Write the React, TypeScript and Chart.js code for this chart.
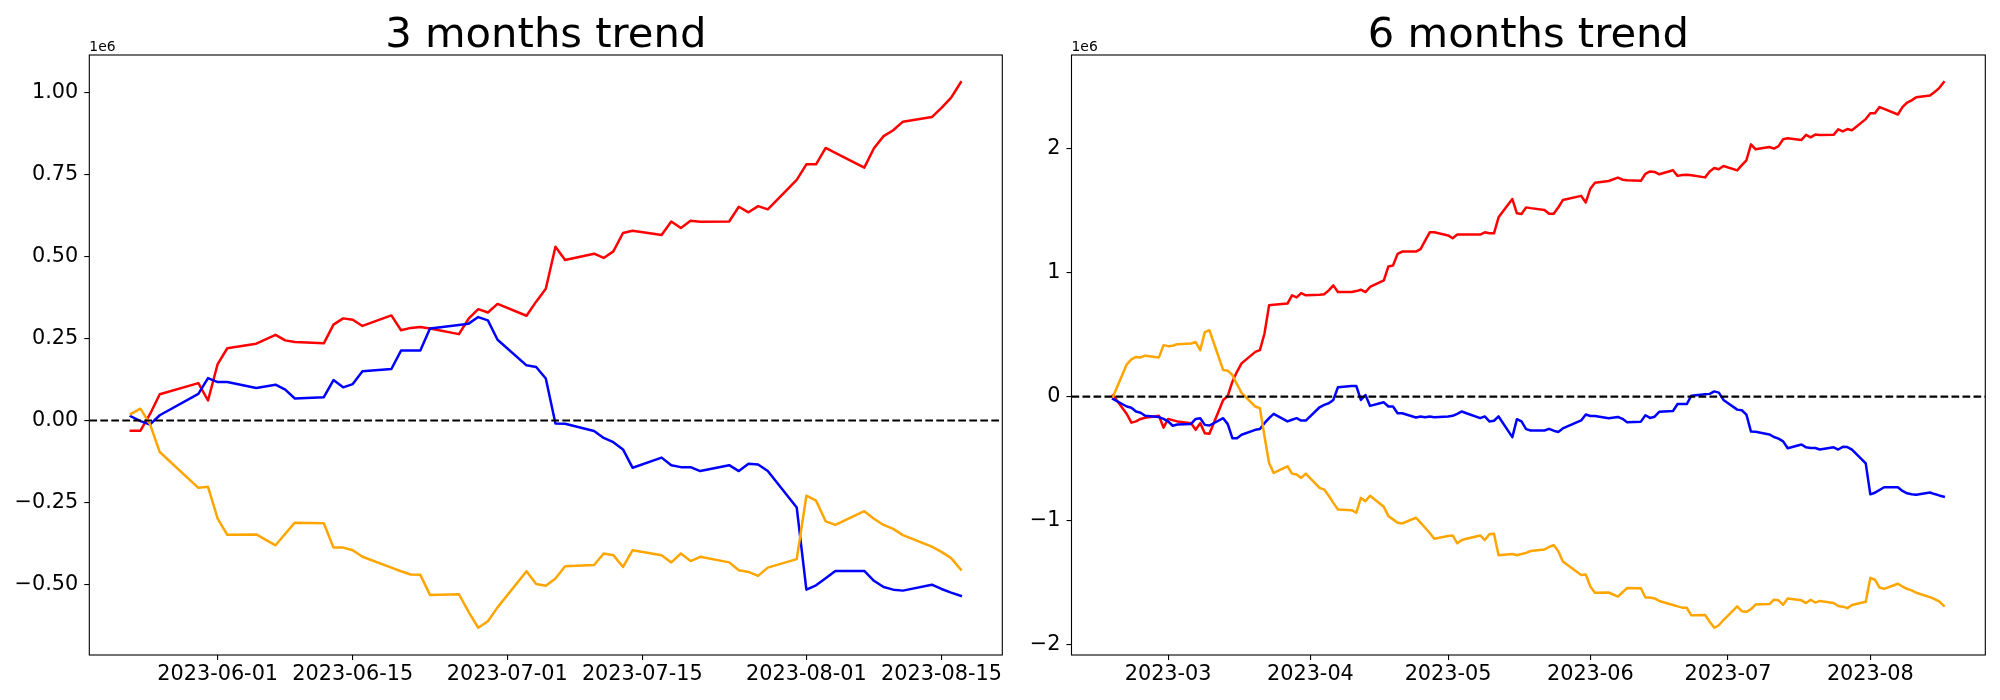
import React, { useEffect, useRef } from "react";
import { Chart, registerables } from "chart.js";

Chart.register(...registerables);

const FONT = "'DejaVu Sans', 'Liberation Sans', sans-serif";

// ---------------- 3 months trend (values in units of 1e6) ----------------
const DATES_3M = [
  "2023-05-23", "2023-05-24", "2023-05-25", "2023-05-26", "2023-05-30", "2023-05-31",
  "2023-06-01", "2023-06-02", "2023-06-05", "2023-06-07", "2023-06-08", "2023-06-09",
  "2023-06-12", "2023-06-13", "2023-06-14", "2023-06-15", "2023-06-16",
  "2023-06-19", "2023-06-20", "2023-06-21", "2023-06-22", "2023-06-23",
  "2023-06-26", "2023-06-27", "2023-06-28", "2023-06-29", "2023-06-30",
  "2023-07-03", "2023-07-04", "2023-07-05", "2023-07-06", "2023-07-07",
  "2023-07-10", "2023-07-11", "2023-07-12", "2023-07-13", "2023-07-14",
  "2023-07-17", "2023-07-18", "2023-07-19", "2023-07-20", "2023-07-21",
  "2023-07-24", "2023-07-25", "2023-07-26", "2023-07-27", "2023-07-28",
  "2023-07-31", "2023-08-01", "2023-08-02", "2023-08-03", "2023-08-04",
  "2023-08-07", "2023-08-08", "2023-08-09", "2023-08-10", "2023-08-11",
  "2023-08-14", "2023-08-15", "2023-08-16", "2023-08-17",
];
const RED_3M = [
  -0.031, -0.031, 0.020, 0.080, 0.114, 0.061,
  0.172, 0.220, 0.234, 0.261, 0.244, 0.239,
  0.235, 0.292, 0.311, 0.307, 0.288,
  0.320, 0.275, 0.282, 0.285, 0.280,
  0.263, 0.310, 0.339, 0.329, 0.355,
  0.319, 0.362, 0.401, 0.529, 0.489,
  0.508, 0.495, 0.515, 0.571, 0.578,
  0.565, 0.606, 0.586, 0.608, 0.605,
  0.606, 0.651, 0.634, 0.653, 0.643,
  0.733, 0.780, 0.780, 0.830, 0.815,
  0.770, 0.829, 0.866, 0.884, 0.910,
  0.924, 0.952, 0.983, 1.030,
];
const BLUE_3M = [
  0.013, -0.002, -0.012, 0.016, 0.081, 0.129,
  0.117, 0.117, 0.099, 0.109, 0.094, 0.067,
  0.071, 0.123, 0.101, 0.111, 0.150,
  0.157, 0.213, 0.213, 0.213, 0.280,
  0.291, 0.295, 0.315, 0.305, 0.246,
  0.168, 0.163, 0.128, -0.009, -0.010,
  -0.032, -0.053, -0.066, -0.088, -0.144,
  -0.113, -0.136, -0.142, -0.142, -0.154,
  -0.136, -0.154, -0.132, -0.134, -0.154,
  -0.265, -0.515, -0.502, -0.480, -0.458,
  -0.458, -0.488, -0.507, -0.515, -0.518,
  -0.500, -0.513, -0.524, -0.534,
];
const ORANGE_3M = [
  0.020, 0.036, -0.012, -0.096, -0.205, -0.202,
  -0.299, -0.348, -0.347, -0.380, -0.345, -0.311,
  -0.313, -0.387, -0.387, -0.395, -0.415,
  -0.448, -0.459, -0.469, -0.470, -0.531,
  -0.529, -0.583, -0.631, -0.611, -0.569,
  -0.459, -0.498, -0.503, -0.481, -0.444,
  -0.440, -0.405, -0.410, -0.446, -0.395,
  -0.410, -0.432, -0.405, -0.428, -0.415,
  -0.432, -0.456, -0.461, -0.473, -0.448,
  -0.422, -0.229, -0.244, -0.307, -0.318,
  -0.276, -0.299, -0.318, -0.330, -0.349,
  -0.384, -0.400, -0.419, -0.454,
];
const XTICKS_3M = ["2023-06-01", "2023-06-15", "2023-07-01", "2023-07-15", "2023-08-01", "2023-08-15"];
const XLABELS_3M = ["2023-06-01", "2023-06-15", "2023-07-01", "2023-07-15", "2023-08-01", "2023-08-15"];
const YTICKS_3M = [-0.5, -0.25, 0, 0.25, 0.5, 0.75, 1.0];

// ---------------- 6 months trend (values in units of 1e6) ----------------
const DATES_6M = [
  "2023-02-17", "2023-02-20", "2023-02-21", "2023-02-22", "2023-02-23", "2023-02-24",
  "2023-02-27", "2023-02-28", "2023-03-01", "2023-03-02", "2023-03-03",
  "2023-03-06", "2023-03-07", "2023-03-08", "2023-03-09", "2023-03-10",
  "2023-03-13", "2023-03-14", "2023-03-15", "2023-03-16", "2023-03-17",
  "2023-03-20", "2023-03-21", "2023-03-22", "2023-03-23", "2023-03-24",
  "2023-03-27", "2023-03-28", "2023-03-29", "2023-03-30", "2023-03-31",
  "2023-04-03", "2023-04-04", "2023-04-05", "2023-04-06", "2023-04-07",
  "2023-04-10", "2023-04-11", "2023-04-12", "2023-04-13", "2023-04-14",
  "2023-04-17", "2023-04-18", "2023-04-19", "2023-04-20", "2023-04-21",
  "2023-04-24", "2023-04-25", "2023-04-26", "2023-04-27", "2023-04-28",
  "2023-05-01", "2023-05-02", "2023-05-03", "2023-05-04", "2023-05-05",
  "2023-05-08", "2023-05-09", "2023-05-10", "2023-05-11", "2023-05-12",
  "2023-05-15", "2023-05-16", "2023-05-17", "2023-05-18", "2023-05-19",
  "2023-05-22",
  "2023-05-23", "2023-05-24", "2023-05-25", "2023-05-26", "2023-05-30", "2023-05-31",
  "2023-06-01", "2023-06-02", "2023-06-05", "2023-06-07", "2023-06-08", "2023-06-09",
  "2023-06-12", "2023-06-13", "2023-06-14", "2023-06-15", "2023-06-16",
  "2023-06-19", "2023-06-20", "2023-06-21", "2023-06-22", "2023-06-23",
  "2023-06-26", "2023-06-27", "2023-06-28", "2023-06-29", "2023-06-30",
  "2023-07-03", "2023-07-04", "2023-07-05", "2023-07-06", "2023-07-07",
  "2023-07-10", "2023-07-11", "2023-07-12", "2023-07-13", "2023-07-14",
  "2023-07-17", "2023-07-18", "2023-07-19", "2023-07-20", "2023-07-21",
  "2023-07-24", "2023-07-25", "2023-07-26", "2023-07-27", "2023-07-28",
  "2023-07-31", "2023-08-01", "2023-08-02", "2023-08-03", "2023-08-04",
  "2023-08-07", "2023-08-08", "2023-08-09", "2023-08-10", "2023-08-11",
  "2023-08-14", "2023-08-15", "2023-08-16", "2023-08-17",
];
const RED_6M = [
  0.01, -0.14, -0.21, -0.20, -0.18, -0.17,
  -0.155, -0.25, -0.18, -0.19, -0.20,
  -0.214, -0.268, -0.214, -0.295, -0.30,
  -0.027, 0.005, 0.12, 0.20, 0.268,
  0.361, 0.375, 0.509, 0.736, 0.74,
  0.75, 0.817, 0.80, 0.835, 0.817,
  0.822, 0.825, 0.857, 0.897, 0.843,
  0.843, 0.851, 0.862, 0.843, 0.884,
  0.937, 1.05, 1.057, 1.151, 1.17,
  1.17, 1.19, 1.258, 1.325, 1.325,
  1.30, 1.277, 1.307, 1.307, 1.307,
  1.307, 1.325, 1.317, 1.317, 1.446,
  1.593, 1.478, 1.473, 1.526, 1.52,
  1.505,
  1.474, 1.474, 1.525, 1.585, 1.619, 1.566,
  1.677, 1.725, 1.739, 1.766, 1.749, 1.744,
  1.740, 1.797, 1.816, 1.812, 1.793,
  1.825, 1.780, 1.787, 1.790, 1.785,
  1.768, 1.815, 1.844, 1.834, 1.860,
  1.824, 1.867, 1.906, 2.034, 1.994,
  2.013, 2.000, 2.020, 2.076, 2.083,
  2.070, 2.111, 2.091, 2.113, 2.110,
  2.111, 2.156, 2.139, 2.158, 2.148,
  2.238, 2.285, 2.285, 2.335, 2.320,
  2.275, 2.334, 2.371, 2.389, 2.415,
  2.429, 2.457, 2.488, 2.535,
];
const BLUE_6M = [
  -0.02, -0.08, -0.09, -0.12, -0.13, -0.155,
  -0.165, -0.18, -0.20, -0.235, -0.225,
  -0.22, -0.18, -0.174, -0.228, -0.233,
  -0.174, -0.222, -0.335, -0.335, -0.308,
  -0.268, -0.262, -0.214, -0.174, -0.139,
  -0.20, -0.187, -0.174, -0.193, -0.193,
  -0.086, -0.067, -0.054, -0.027, 0.075,
  0.086, 0.086, -0.027, 0.013, -0.075,
  -0.046, -0.08, -0.08, -0.134, -0.134,
  -0.169, -0.16, -0.166, -0.16, -0.166,
  -0.16, -0.155, -0.139, -0.12, -0.134,
  -0.174, -0.16, -0.20, -0.195, -0.16,
  -0.327, -0.182, -0.20, -0.262, -0.273,
  -0.273,
  -0.260, -0.275, -0.285, -0.257, -0.192, -0.144,
  -0.156, -0.156, -0.174, -0.164, -0.179, -0.206,
  -0.202, -0.150, -0.172, -0.162, -0.123,
  -0.116, -0.060, -0.060, -0.060, 0.007,
  0.018, 0.022, 0.042, 0.032, -0.027,
  -0.105, -0.110, -0.145, -0.282, -0.283,
  -0.305, -0.326, -0.339, -0.361, -0.417,
  -0.386, -0.409, -0.415, -0.415, -0.427,
  -0.409, -0.427, -0.405, -0.407, -0.427,
  -0.538, -0.788, -0.775, -0.753, -0.731,
  -0.731, -0.761, -0.780, -0.788, -0.791,
  -0.773, -0.786, -0.797, -0.807,
];
const ORANGE_6M = [
  0.00, 0.26, 0.30, 0.32, 0.316, 0.33,
  0.316, 0.415, 0.407, 0.41, 0.423,
  0.428, 0.44, 0.375, 0.52, 0.535,
  0.214, 0.209, 0.174, 0.10, 0.03,
  -0.08, -0.094, -0.32, -0.535, -0.616,
  -0.562, -0.621, -0.629, -0.656, -0.621,
  -0.736, -0.75, -0.80, -0.857, -0.91,
  -0.916, -0.937, -0.817, -0.843, -0.80,
  -0.889, -0.964, -0.99, -1.017, -1.023,
  -0.977, -1.017, -1.058, -1.10, -1.146,
  -1.124, -1.12, -1.183, -1.157, -1.146,
  -1.12, -1.157, -1.11, -1.106, -1.28,
  -1.27, -1.28, -1.27, -1.26, -1.245,
  -1.233,
  -1.213, -1.197, -1.245, -1.329, -1.438, -1.435,
  -1.532, -1.581, -1.580, -1.613, -1.578, -1.544,
  -1.546, -1.620, -1.620, -1.628, -1.648,
  -1.681, -1.692, -1.702, -1.703, -1.764,
  -1.762, -1.816, -1.864, -1.844, -1.802,
  -1.692, -1.731, -1.736, -1.714, -1.677,
  -1.673, -1.638, -1.643, -1.679, -1.628,
  -1.643, -1.665, -1.638, -1.661, -1.648,
  -1.665, -1.689, -1.694, -1.706, -1.681,
  -1.655, -1.462, -1.477, -1.540, -1.551,
  -1.509, -1.532, -1.551, -1.563, -1.582,
  -1.617, -1.633, -1.652, -1.687,
];
const XTICKS_6M = ["2023-03-01", "2023-04-01", "2023-05-01", "2023-06-01", "2023-07-01", "2023-08-01"];
const XLABELS_6M = ["2023-03", "2023-04", "2023-05", "2023-06", "2023-07", "2023-08"];
const YTICKS_6M = [-2, -1, 0, 1, 2];

const RED = "#ff0000";
const BLUE = "#0000ff";
const ORANGE = "#ffa500";

const dayNum = (s: string) => {
  const [y, m, d] = s.split("-").map(Number);
  return Date.UTC(y, m - 1, d) / 86400000;
};

const fmtY = (v: number, dec: number) => {
  const s = Math.abs(v).toFixed(dec);
  return (v < -1e-9 ? "\u2212" : "") + s;
};

const framePlugin = {
  id: "mplFrame",
  afterDatasetsDraw(chart: any, _args: any, opts: any) {
    const { ctx, chartArea: ca, scales } = chart;
    const y = scales.y.getPixelForValue(opts.zero);
    ctx.save();
    ctx.beginPath();
    ctx.rect(ca.left, ca.top, ca.right - ca.left, ca.bottom - ca.top);
    ctx.clip();
    ctx.strokeStyle = "#000";
    ctx.lineWidth = 2.1;
    ctx.setLineDash([7.7, 3.3]);
    ctx.beginPath();
    ctx.moveTo(ca.left, y);
    ctx.lineTo(ca.right, y);
    ctx.stroke();
    ctx.restore();
  },
  afterDraw(chart: any, _args: any, opts: any) {
    const { ctx, chartArea: ca } = chart;
    ctx.save();
    ctx.strokeStyle = "#000";
    ctx.lineWidth = 1.1;
    ctx.setLineDash([]);
    ctx.strokeRect(ca.left, ca.top, ca.right - ca.left, ca.bottom - ca.top);
    ctx.fillStyle = "#000";
    ctx.font = `41.7px ${FONT}`;
    ctx.textAlign = "center";
    ctx.textBaseline = "alphabetic";
    ctx.fillText(opts.title, (ca.left + ca.right) / 2, ca.top - 8.3);
    ctx.font = `13.9px ${FONT}`;
    ctx.textAlign = "left";
    ctx.fillText(opts.offset, ca.left, ca.top - 4.3);
    ctx.restore();
  },
};

type PanelProps = {
  title: string;
  dates: string[];
  red: number[];
  blue: number[];
  orange: number[];
  xTicks: string[];
  xLabels: string[];
  yTicks: number[];
  yDecimals: number;
  left: number;
  width: number;
  height: number;
  areaLeft: number;
  areaRight: number;
  areaTop: number;
  areaBottom: number;
};

function Panel(p: PanelProps) {
  const ref = useRef<HTMLCanvasElement>(null);
  useEffect(() => {
    const xs = p.dates.map(dayNum);
    const x0 = xs[0];
    const x1 = xs[xs.length - 1];
    const xm = (x1 - x0) * 0.05;
    const all = [...p.red, ...p.blue, ...p.orange];
    const y0 = Math.min(...all);
    const y1 = Math.max(...all);
    const ym = (y1 - y0) * 0.05;
    const xTickVals = p.xTicks.map(dayNum);
    const mk = (vals: number[], color: string) => ({
      data: xs.map((x, i) => ({ x, y: vals[i] })),
      borderColor: color,
      backgroundColor: color,
      borderWidth: 2.5,
      pointRadius: 0,
      pointHoverRadius: 0,
      tension: 0,
      fill: false,
      borderJoinStyle: "round" as const,
      borderCapStyle: "square" as const,
    });
    const tickFont = { family: FONT, size: 20.8 };
    const gridCfg = {
      display: true,
      drawOnChartArea: false,
      drawTicks: true,
      tickLength: 5,
      color: "#000",
      lineWidth: 1.1,
    };
    const chart = new Chart(ref.current as HTMLCanvasElement, {
      type: "line",
      data: {
        datasets: [mk(p.orange, ORANGE), mk(p.blue, BLUE), mk(p.red, RED)],
      },
      options: {
        animation: false,
        responsive: false,
        events: [],
        layout: {
          padding: { left: 0, right: p.width - p.areaRight, top: p.areaTop, bottom: 0 },
        },
        plugins: {
          legend: { display: false },
          tooltip: { enabled: false },
          title: { display: false },
          mplFrame: { title: p.title, offset: "1e6", zero: 0 },
        } as any,
        scales: {
          x: {
            type: "linear",
            min: x0 - xm,
            max: x1 + xm,
            afterFit: (s: any) => {
              s.height = p.height - p.areaBottom;
            },
            afterBuildTicks: (s: any) => {
              s.ticks = xTickVals.map((v) => ({ value: v }));
            },
            ticks: {
              autoSkip: false,
              maxRotation: 0,
              minRotation: 0,
              padding: 2,
              color: "#000",
              font: tickFont,
              callback: (_v: any, i: number) => p.xLabels[i],
            },
            grid: gridCfg,
            border: { display: false },
          },
          y: {
            type: "linear",
            min: y0 - ym,
            max: y1 + ym,
            afterFit: (s: any) => {
              s.width = p.areaLeft;
            },
            afterBuildTicks: (s: any) => {
              s.ticks = p.yTicks.map((v) => ({ value: v }));
            },
            ticks: {
              autoSkip: false,
              padding: 6,
              color: "#000",
              font: tickFont,
              callback: (v: any) => fmtY(Number(v), p.yDecimals),
            },
            grid: gridCfg,
            border: { display: false },
          },
        },
      } as any,
      plugins: [framePlugin as any],
    });
    return () => chart.destroy();
  }, []);
  return (
    <canvas
      ref={ref}
      width={p.width}
      height={p.height}
      style={{ position: "absolute", left: p.left, top: 0, width: p.width, height: p.height }}
    />
  );
}

export default function App() {
  return (
    <div
      style={{
        position: "absolute",
        left: 0,
        top: 0,
        width: 2000,
        height: 700,
        background: "#ffffff",
        overflow: "hidden",
      }}
    >
      <Panel
        title="3 months trend"
        dates={DATES_3M}
        red={RED_3M}
        blue={BLUE_3M}
        orange={ORANGE_3M}
        xTicks={XTICKS_3M}
        xLabels={XLABELS_3M}
        yTicks={YTICKS_3M}
        yDecimals={2}
        left={0}
        width={1020}
        height={700}
        areaLeft={89.3}
        areaRight={1002.3}
        areaTop={55}
        areaBottom={655}
      />
      <Panel
        title="6 months trend"
        dates={DATES_6M}
        red={RED_6M}
        blue={BLUE_6M}
        orange={ORANGE_6M}
        xTicks={XTICKS_6M}
        xLabels={XLABELS_6M}
        yTicks={YTICKS_6M}
        yDecimals={0}
        left={1020}
        width={980}
        height={700}
        areaLeft={51.5}
        areaRight={965.3}
        areaTop={55}
        areaBottom={655}
      />
    </div>
  );
}
